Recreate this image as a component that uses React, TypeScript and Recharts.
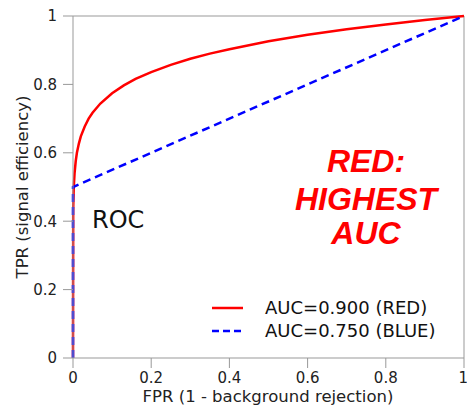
import React from "react";
import {
  LineChart,
  Line,
  XAxis,
  YAxis,
  ReferenceLine,
  Legend,
} from "recharts";

// ROC curves
const redFpr = [
  0, 0.0005, 0.001, 0.002, 0.004, 0.007, 0.01, 0.015, 0.02, 0.03, 0.04, 0.05,
  0.07, 0.1, 0.13, 0.16, 0.2, 0.25, 0.3, 0.35, 0.4, 0.5, 0.6, 0.7, 0.8, 0.9, 1,
];
const redTpr = [
  0, 0.43, 0.46, 0.5, 0.54, 0.576, 0.6, 0.627, 0.648, 0.677, 0.7, 0.717, 0.744,
  0.774, 0.797, 0.816, 0.836, 0.857, 0.875, 0.89, 0.903, 0.926, 0.945, 0.961,
  0.975, 0.988, 1,
];
const blueFpr = [0, 0, 1];
const blueTpr = [0, 0.5, 1];

const ticks = [0, 0.2, 0.4, 0.6, 0.8, 1];

const legendItems = [
  { label: "AUC=0.900 (RED)", color: "#ff0000", dash: undefined },
  { label: "AUC=0.750 (BLUE)", color: "#0000ff", dash: "7 4" },
];

const redData = redFpr.map((x, i) => ({ x, y: redTpr[i] }));
const blueData = blueFpr.map((x, i) => ({ x, y: blueTpr[i] }));

const FONT = "'DejaVu Sans', sans-serif";
const AXIS = "#999";

const fmt = (v: number) => (v === 0 ? "0" : v === 1 ? "1" : String(v));

function RocLegend() {
  return (
    <div style={{ fontFamily: FONT, fontSize: 18, color: "#111" }}>
      {legendItems.map((it) => (
        <div
          key={it.label}
          style={{ display: "flex", alignItems: "center", height: 23 }}
        >
          <svg width={60} height={10}>
            <line
              x1={7}
              x2={38}
              y1={5}
              y2={5}
              stroke={it.color}
              strokeWidth={2.5}
              strokeDasharray={it.dash}
            />
          </svg>
          <span style={{ whiteSpace: "nowrap" }}>{it.label}</span>
        </div>
      ))}
    </div>
  );
}

export default function App() {
  return (
    <div
      style={{
        position: "absolute",
        left: 0,
        top: 0,
        width: 467,
        height: 407,
        background: "#fff",
      }}
    >
      <LineChart
        width={467}
        height={407}
        margin={{ top: 16, right: 3, left: 0, bottom: 0 }}
      >
        <XAxis
          type="number"
          dataKey="x"
          domain={[0, 1]}
          ticks={ticks}
          tickFormatter={fmt}
          height={49}
          tickSize={10}
          tickMargin={4}
          stroke={AXIS}
          tick={{ fill: "#222", fontSize: 15, fontFamily: FONT }}
          allowDuplicatedCategory={false}
        />
        <YAxis
          type="number"
          dataKey="y"
          domain={[0, 1]}
          ticks={ticks}
          tickFormatter={fmt}
          width={73}
          tickSize={10}
          tickMargin={6}
          stroke={AXIS}
          tick={{ fill: "#222", fontSize: 15, fontFamily: FONT }}
        />
        <ReferenceLine y={1} stroke={AXIS} />
        <ReferenceLine x={1} stroke={AXIS} />
        <Line
          data={redData}
          dataKey="y"
          type="linear"
          stroke="#ff0000"
          strokeWidth={2.5}
          dot={false}
          isAnimationActive={false}
        />
        <Line
          data={blueData}
          dataKey="y"
          type="linear"
          stroke="#0000ff"
          strokeWidth={2.5}
          strokeDasharray="8 5"
          dot={false}
          isAnimationActive={false}
        />
        <Legend
          layout="vertical"
          align="center"
          verticalAlign="middle"
          content={() => <RocLegend />}
          wrapperStyle={{ left: 205, top: 296, width: 250 }}
        />
      </LineChart>
      <svg
        width={467}
        height={407}
        style={{ position: "absolute", left: 0, top: 0, pointerEvents: "none" }}
      >
        <text
          x={268}
          y={402}
          textAnchor="middle"
          fontFamily={FONT}
          fontSize={16.5}
          fill="#222"
        >
          FPR (1 - background rejection)
        </text>
        <text
          x={28}
          y={187}
          textAnchor="middle"
          transform="rotate(-90, 28, 187)"
          fontFamily={FONT}
          fontSize={16.5}
          fill="#222"
        >
          TPR (signal efficiency)
        </text>
        <text x={92} y={228} fontFamily={FONT} fontSize={24} fill="#111">
          ROC
        </text>
        <text
          textAnchor="middle"
          fontFamily="'Liberation Sans', Arial, sans-serif"
          fontWeight="bold"
          fontStyle="italic"
          fontSize={32}
          fill="#ff0000"
        >
          <tspan x={366} y={172}>RED:</tspan>
          <tspan x={366} y={210}>HIGHEST</tspan>
          <tspan x={366} y={244}>AUC</tspan>
        </text>
      </svg>
    </div>
  );
}
